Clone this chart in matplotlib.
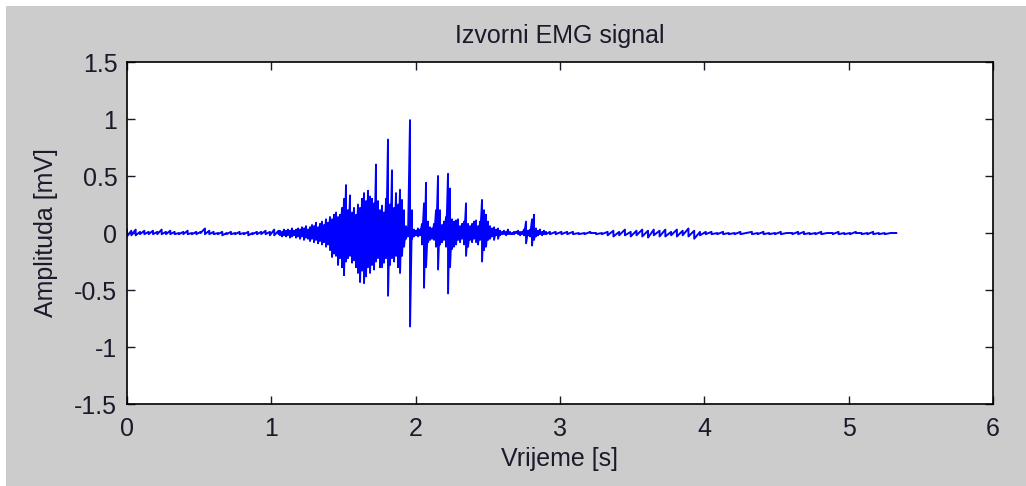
import matplotlib
matplotlib.use('Agg')
import matplotlib.pyplot as plt
import numpy as np
from matplotlib.patches import Rectangle

plt.rcParams['font.family'] = ['Liberation Sans', 'DejaVu Sans']

# EMG envelope: each sample is a (high, low) swing in mV
# quiet start, 0 .. 1.05 s
start_t0 = 0.0
start_dt = 0.03
start_hi = [0.03, 0.02, 0.03, 0.01, 0.02, 0.01, 0.02, 0.01, 0.03, 0.01,
            0.02, 0.01, 0.00, 0.01, 0.02, 0.00, 0.01, 0.01, 0.04, 0.02,
            0.01, 0.00, 0.01, 0.00, 0.01, 0.00, 0.01, 0.00, 0.01, 0.00,
            0.01, 0.01, 0.02, 0.01, 0.03, 0.02]
start_lo = [-0.03, -0.02, -0.02, -0.01, -0.01, -0.01, -0.01, -0.01, -0.01, -0.01,
            -0.01, -0.01, -0.01, -0.01, -0.01, -0.01, -0.01, 0.00, -0.01, -0.01,
            -0.01, -0.01, -0.02, -0.01, -0.01, -0.01, -0.01, -0.01, -0.02, -0.01,
            -0.01, -0.01, -0.01, -0.02, -0.02, -0.01]

# muscle burst, 1.06 .. 2.92 s
burst_t0 = 1.060
burst_dt = 0.01386
burst_hi = [0.02, 0.01, 0.03, 0.02, 0.03, 0.02, 0.04, 0.02, 0.03, 0.04,
            0.03, 0.05, 0.04, 0.06, 0.03, 0.05, 0.07, 0.06, 0.09, 0.05,
            0.08, 0.10, 0.07, 0.12, 0.09, 0.14, 0.12, 0.16, 0.18, 0.14,
            0.16, 0.22, 0.30, 0.42, 0.20, 0.33, 0.18, 0.22, 0.16, 0.25,
            0.22, 0.30, 0.35, 0.28, 0.37, 0.32, 0.30, 0.26, 0.60, 0.28,
            0.20, 0.24, 0.18, 0.30, 0.82, 0.25, 0.55, 0.22, 0.35, 0.25,
            0.38, 0.29, 0.20, 0.06, 0.04, 0.99, 0.20, 0.03, 0.02, 0.04,
            0.03, 0.08, 0.26, 0.44, 0.10, 0.05, 0.04, 0.08, 0.20, 0.50,
            0.20, 0.07, 0.10, 0.14, 0.52, 0.39, 0.12, 0.10, 0.11, 0.12,
            0.06, 0.08, 0.10, 0.26, 0.08, 0.06, 0.08, 0.10, 0.11, 0.06,
            0.10, 0.29, 0.20, 0.16, 0.10, 0.06, 0.04, 0.05, 0.03, 0.04,
            0.02, 0.01, 0.02, 0.01, 0.03, 0.01, 0.00, 0.01, 0.01, 0.02,
            0.01, 0.01, 0.03, 0.10, 0.02, 0.03, 0.12, 0.16, 0.04, 0.02,
            0.03, 0.01, 0.02, 0.01]
burst_lo = [-0.02, -0.03, -0.02, -0.03, -0.02, -0.04, -0.03, -0.02, -0.04, -0.03,
            -0.05, -0.03, -0.06, -0.04, -0.05, -0.07, -0.05, -0.08, -0.06, -0.09,
            -0.07, -0.10, -0.08, -0.12, -0.10, -0.15, -0.21, -0.18, -0.20, -0.28,
            -0.22, -0.30, -0.37, -0.25, -0.22, -0.20, -0.26, -0.24, -0.30, -0.35,
            -0.43, -0.33, -0.44, -0.38, -0.30, -0.35, -0.28, -0.32, -0.25, -0.22,
            -0.30, -0.30, -0.26, -0.22, -0.55, -0.28, -0.22, -0.25, -0.20, -0.30,
            -0.35, -0.20, -0.12, -0.05, -0.03, -0.82, -0.05, -0.03, -0.02, -0.03,
            -0.02, -0.10, -0.48, -0.30, -0.08, -0.06, -0.05, -0.06, -0.12, -0.32,
            -0.10, -0.08, -0.06, -0.12, -0.53, -0.30, -0.14, -0.12, -0.10, -0.06,
            -0.08, -0.05, -0.10, -0.20, -0.12, -0.06, -0.08, -0.05, -0.08, -0.10,
            -0.06, -0.25, -0.15, -0.12, -0.06, -0.05, -0.03, -0.06, -0.02, -0.05,
            -0.02, -0.01, -0.01, -0.02, -0.01, -0.01, -0.01, -0.01, 0.00, -0.01,
            -0.02, -0.01, -0.02, -0.09, -0.02, -0.03, -0.11, -0.06, -0.03, -0.02,
            -0.01, -0.02, -0.01, -0.01]

# tail after the burst, 2.93 .. 5.33 s
tail_t0 = 2.93
tail_dt = 0.04
tail_hi = [0.01, 0.01, 0.01, 0.01, 0.01, 0.00, 0.00, 0.01, 0.00, 0.00,
           0.01, 0.02, 0.01, 0.03, 0.01, 0.02, 0.03, 0.02, 0.03, 0.02,
           0.03, 0.01, 0.03, 0.02, 0.04, 0.02, 0.01, 0.01, 0.01, 0.00,
           0.01, 0.00, 0.00, 0.01, 0.00, 0.01, 0.00, 0.01, 0.00, 0.00,
           0.01, 0.00, 0.00, 0.01, 0.01, 0.00, 0.00, 0.01, 0.00, 0.00,
           0.01, 0.00, 0.00, 0.01, 0.00, 0.00, 0.01, 0.00, 0.00, 0.00,
           0.00]
tail_lo = [-0.01, -0.01, -0.01, -0.01, -0.01, -0.01, -0.01, 0.00, -0.01, -0.01,
           -0.02, -0.03, -0.02, -0.02, -0.03, -0.02, -0.03, -0.04, -0.02, -0.03,
           -0.03, -0.02, -0.03, -0.02, -0.03, -0.05, -0.02, -0.01, -0.01, -0.01,
           -0.01, -0.01, -0.01, -0.01, 0.00, -0.01, -0.01, -0.01, -0.01, -0.01,
           -0.01, 0.00, -0.01, -0.01, -0.01, -0.01, -0.01, -0.01, 0.00, -0.01,
           -0.01, -0.01, -0.01, 0.00, -0.01, -0.01, -0.01, -0.01, -0.01, 0.00,
           0.00]


def trace(t0, dt, hi, lo):
    # every sample swings from its high to its low value
    t = t0 + dt * np.arange(len(hi))
    tt = np.repeat(t, 2)
    vv = np.column_stack([hi, lo]).ravel()
    return tt, vv


parts = [trace(start_t0, start_dt, start_hi, start_lo),
         trace(burst_t0, burst_dt, burst_hi, burst_lo),
         trace(tail_t0, tail_dt, tail_hi, tail_lo)]
t_all = np.concatenate([p[0] for p in parts])
v_all = np.concatenate([p[1] for p in parts])

fig = plt.figure(figsize=(10.26, 4.86), dpi=100)
fig.patch.set_facecolor('#cccccc')
fig.patches.append(Rectangle((0, 1 - 6 / 486), 1, 6 / 486, transform=fig.transFigure,
                             facecolor='white', edgecolor='none'))
fig.patches.append(Rectangle((0, 0), 6 / 1026, 1, transform=fig.transFigure,
                             facecolor='white', edgecolor='none'))

ax = fig.add_axes([0.1238, 0.1687, 0.844, 0.7037])
ax.plot(t_all, v_all, color='#0000ff', lw=1.4)

ax.set_xlim(0, 6)
ax.set_ylim(-1.5, 1.5)
ax.set_xticks([0, 1, 2, 3, 4, 5, 6])
ax.set_yticks([-1.5, -1, -0.5, 0, 0.5, 1, 1.5])
ax.set_yticklabels(['-1.5', '-1', '-0.5', '0', '0.5', '1', '1.5'])
ax.tick_params(direction='in', length=6, width=1, top=True, right=True,
               labelsize=18, colors='#1a1a2a')
ax.tick_params(axis='x', pad=9)
ax.tick_params(axis='y', pad=7)
for s in ax.spines.values():
    s.set_linewidth(1.2)

ax.set_title('Izvorni EMG signal', fontsize=18, pad=14, color='#1a1a2a')
ax.set_xlabel('Vrijeme [s]', fontsize=18, labelpad=5, color='#1a1a2a')
ax.set_ylabel('Amplituda [mV]', fontsize=18, labelpad=12, color='#1a1a2a')

fig.savefig('out.png', dpi=100, facecolor=fig.get_facecolor())
